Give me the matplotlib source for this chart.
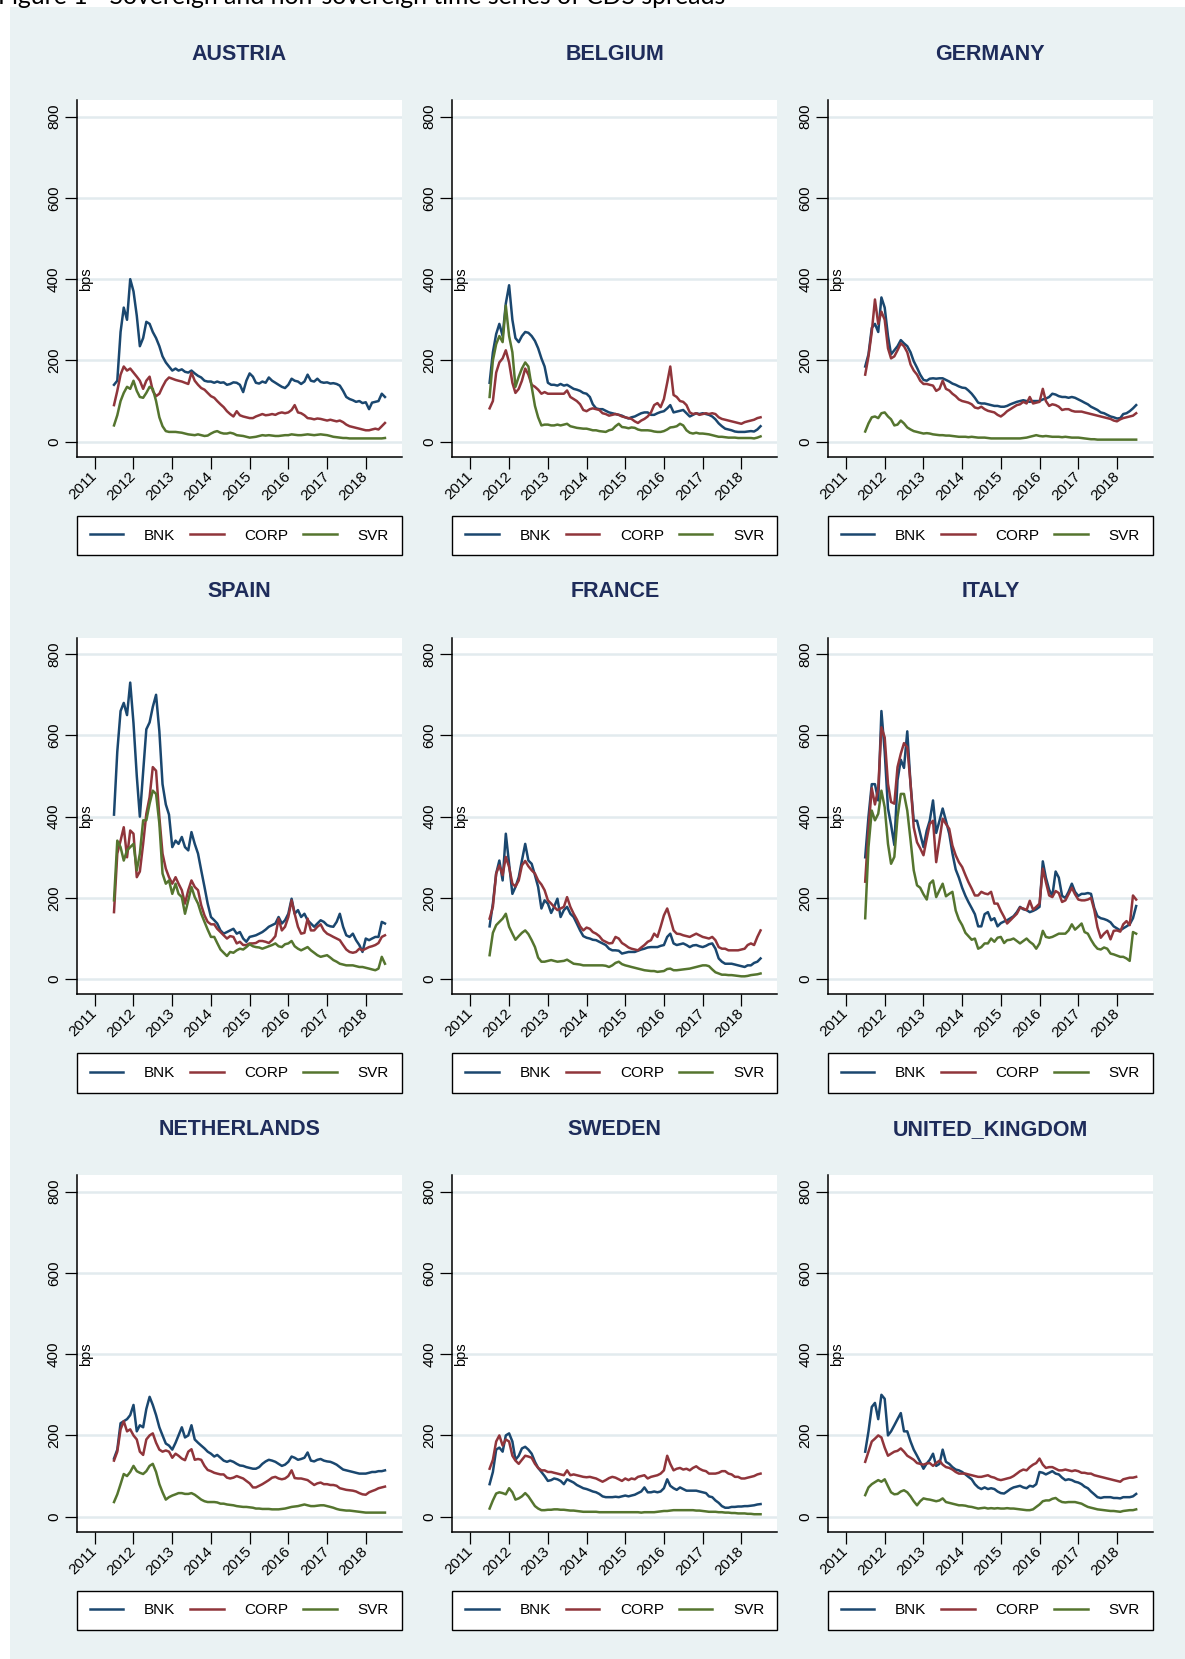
import numpy as np
import pandas as pd
import matplotlib
matplotlib.use("Agg")
from matplotlib import pyplot as plt
from matplotlib.patches import Rectangle
import matplotlib.transforms as mtransforms

plt.rcParams['font.family'] = ['Liberation Sans', 'DejaVu Sans']

# monthly observations, Jul 2011 .. Jul 2018
dates = pd.date_range("2011-07-01", periods=85, freq="MS")
years = list(range(2011, 2019))
yticks = [0, 200, 400, 600, 800]
series_names = ["BNK", "CORP", "SVR"]
countries = ["AUSTRIA", "BELGIUM", "GERMANY", "SPAIN", "FRANCE", "ITALY",
             "NETHERLANDS", "SWEDEN", "UNITED_KINGDOM"]

austria_bnk = [140,150,270,330,300,400,370,310,235,255, 295,290,270,255,235,210,195,185,175,180,
               175,178,172,170,175,168,162,158,150,148, 148,145,148,145,146,140,142,146,145,140,
               122,150,168,160,145,143,148,145,158,150, 145,140,135,132,140,155,150,148,142,148,
               165,150,148,155,147,145,146,143,144,142, 138,125,110,105,102,98,100,95,97,80,
               96,98,100,118,110]
austria_corp = [90,125,165,185,175,180,170,160,150,130, 150,160,125,112,118,135,150,158,155,152,
                150,148,145,142,170,150,140,132,128,120, 112,108,100,92,85,75,68,62,75,65,
                62,60,58,58,62,65,68,65,66,68, 66,70,72,70,72,78,90,72,70,65,
                58,57,55,57,56,54,52,54,52,50, 52,48,42,38,36,34,32,30,28,28,
                30,32,30,38,46]
austria_svr = [40,65,100,120,135,130,150,125,110,108, 120,135,130,100,60,38,26,24,24,24,
               23,22,20,18,17,16,18,16,14,15, 20,24,26,22,20,20,22,20,16,15,
               14,12,10,11,12,14,16,15,16,15, 14,14,15,16,16,18,17,16,16,17,
               18,17,16,17,18,17,16,14,12,11, 10,9,9,8,8,8,8,8,8,8,
               8,8,8,8,9]

belgium_bnk = [145,220,265,290,260,340,385,300,255,245, 260,270,268,260,248,230,205,185,145,140,
               140,138,142,138,140,135,130,128,125,120, 118,110,92,82,80,80,76,72,70,68,
               66,64,60,57,60,62,66,70,72,72, 66,66,70,73,75,82,90,72,74,76,
               78,70,62,66,70,68,70,68,66,62, 55,45,38,32,30,28,25,24,24,24,
               25,26,25,30,38]
belgium_corp = [82,100,170,195,205,225,195,145,120,130, 150,180,165,140,135,128,118,122,118,118,
                118,118,118,118,126,110,105,100,92,78, 75,80,82,80,78,70,68,64,66,68,
                66,62,60,58,56,50,46,52,56,62, 72,90,95,85,105,145,185,115,110,100,
                98,90,72,68,70,66,68,70,68,70, 68,60,56,54,52,50,48,46,44,48,
                50,52,54,58,60]
belgium_svr = [110,200,240,260,245,335,260,220,135,160, 180,195,185,135,88,60,40,42,42,40,
               40,42,40,42,44,38,36,34,33,32, 32,30,28,28,26,25,24,28,30,38,
               44,36,35,33,35,34,30,28,28,28, 27,25,24,24,26,30,35,36,38,44,
               40,28,22,20,22,20,20,19,18,16, 14,12,12,11,10,10,10,9,9,9,
               9,9,8,10,13]

germany_bnk = [185,215,280,290,270,355,330,260,215,225, 235,250,242,235,220,198,182,165,152,150,
               155,156,155,156,156,152,148,143,140,136, 133,132,126,118,108,96,94,94,92,90,
               88,88,86,86,88,92,95,98,100,102, 100,98,100,100,100,104,106,110,118,116,
               112,110,110,108,110,108,104,100,96,92, 86,82,78,72,70,66,62,60,57,58,
               68,70,75,82,90]
germany_corp = [165,210,270,350,290,320,300,230,205,210, 225,242,235,220,190,175,165,150,142,142,
                140,138,125,130,150,130,126,118,112,104, 100,98,96,92,84,82,86,80,76,74,
                72,66,62,68,75,80,85,90,92,98, 94,110,94,96,98,130,100,88,92,90,
                86,78,80,80,76,74,74,74,72,70, 68,66,64,62,60,58,56,52,50,55,
                58,60,62,64,70]
germany_svr = [25,45,60,62,58,70,72,62,55,40, 42,52,45,35,30,26,24,22,20,21,
               20,18,17,16,16,15,15,14,13,12, 12,12,11,12,11,10,10,10,9,8,
               8,8,8,8,8,8,8,8,8,9, 10,12,14,16,14,13,14,13,12,12,
               12,11,12,11,10,10,10,9,8,7, 6,6,5,5,5,5,5,5,5,5,
               5,5,5,5,5]

spain_bnk = [405,560,660,680,650,730,630,500,400,510, 615,632,670,700,610,480,430,405,325,341,
             333,350,325,317,362,333,309,268,227,186, 153,145,137,120,112,116,120,124,112,116,
             100,92,104,106,108,112,116,122,129,133, 137,153,137,145,161,198,161,170,153,161,
             145,137,129,137,145,141,133,130,129,141, 161,129,108,104,112,96,84,67,100,96,
             100,104,104,141,137]
spain_corp = [165,309,341,374,300,366,358,251,265,333, 407,448,522,513,399,309,272,251,235,251,
              235,219,186,219,243,227,219,182,157,141, 135,135,124,116,108,100,106,104,88,92,
              84,84,88,88,89,94,94,92,89,96, 106,149,120,129,153,194,161,129,112,114,
              149,120,120,129,135,120,112,108,104,100, 96,84,73,67,65,67,75,71,75,79,
              81,84,89,104,108]
spain_svr = [194,341,325,292,317,325,333,268,309,391, 391,432,464,456,383,260,235,243,210,235,
             210,202,161,194,227,202,186,161,141,122, 104,104,89,73,65,57,67,65,71,75,
             73,79,86,81,79,78,75,78,81,84, 88,81,79,86,88,94,81,75,71,75,
             79,71,65,59,55,57,59,53,47,43, 38,36,34,34,34,32,30,30,28,26,
             24,22,26,55,38]

france_bnk = [130,186,260,292,243,358,284,210,227,251, 292,333,292,284,256,227,174,194,186,163,
              178,198,153,170,178,161,153,137,120,106, 102,100,97,96,92,88,84,75,71,71,
              70,63,65,67,67,67,70,73,75,78, 79,79,79,82,84,104,112,88,84,86,
              88,84,79,83,84,81,79,82,86,88, 75,51,43,38,38,38,36,34,32,30,
              34,34,40,43,51]
france_corp = [149,178,260,280,256,301,276,235,228,243, 280,291,278,268,260,243,233,219,194,186,
               178,170,174,178,202,178,161,147,130,120, 127,124,116,112,106,96,92,88,89,104,
               100,89,84,78,75,73,71,78,84,92, 96,112,104,129,157,174,149,120,112,111,
               108,106,104,108,112,108,104,102,100,104, 96,79,75,75,71,71,71,71,73,75,
               84,88,84,104,120]
france_svr = [59,114,133,141,149,161,129,112,97,106, 114,120,111,96,79,53,43,43,45,47,
              45,43,44,45,48,43,38,37,36,34, 34,34,34,34,34,34,33,30,34,40,
              43,37,34,32,30,28,26,24,22,21, 20,20,18,19,20,25,26,22,22,23,
              24,25,26,28,30,32,34,34,32,24, 17,14,11,11,10,10,9,8,7,7,
              8,10,11,12,14]

italy_bnk = [300,400,480,480,440,660,560,420,380,330, 490,540,520,610,480,390,390,358,325,366,
             390,440,360,390,420,390,358,310,270,250, 225,205,190,175,160,130,130,160,165,145,
             150,130,138,142,145,150,155,165,178,172, 170,165,168,172,178,290,250,220,205,265,
             250,205,200,215,235,215,205,210,210,212, 210,175,155,150,148,145,140,130,125,120,
             125,130,135,150,180]
italy_corp = [240,370,470,430,470,620,595,481,436,432, 522,555,581,571,481,374,337,322,305,346,
              382,390,288,342,395,382,370,329,305,288, 276,256,239,223,206,206,215,211,209,215,
              186,186,168,153,137,145,153,161,176,174, 170,193,171,178,186,272,239,206,202,217,
              212,190,194,209,225,209,196,194,194,196, 200,170,128,102,112,119,98,119,120,117,
              135,143,133,206,196]
italy_svr = [150,325,415,391,407,464,423,333,284,301, 399,456,456,415,342,268,231,225,209,196,
             235,243,202,219,235,204,210,215,169,147, 133,114,106,97,100,75,79,88,88,100,
             92,102,104,89,96,97,100,94,88,94, 100,92,86,75,88,119,104,102,104,108,
             112,112,112,120,135,122,129,137,116,112, 97,84,75,73,78,75,63,61,58,55,
             55,51,45,116,112]

netherlands_bnk = [143,165,230,235,240,250,275,210,225,220, 265,295,275,250,220,200,180,175,165,182,
                   200,220,195,200,225,190,182,175,168,160, 155,148,152,145,138,135,138,135,130,126,
                   125,122,120,118,118,122,130,136,140,138, 135,130,125,128,135,148,145,140,142,145,
                   158,138,136,140,142,138,136,135,132,128, 122,116,114,112,110,108,106,106,106,108,
                   110,110,112,112,114]
netherlands_corp = [138,160,215,235,210,215,200,190,160,152, 190,200,205,182,165,160,163,160,145,155,
                    150,143,139,160,166,140,142,140,125,115, 112,108,106,104,104,96,94,96,100,97,
                    94,88,82,72,72,76,80,85,90,96, 98,94,92,94,100,114,95,94,94,92,
                    90,84,78,82,84,80,80,78,78,76, 70,68,66,65,64,62,58,55,54,60,
                    63,66,70,72,74]
netherlands_svr = [36,55,80,105,100,110,125,112,108,105, 112,125,130,110,80,60,42,48,52,55,
                   58,58,56,56,58,54,48,42,38,36, 36,36,35,32,32,30,29,28,26,25,
                   24,24,23,22,20,20,19,19,19,18, 18,18,19,20,22,24,25,26,28,30,
                   28,26,26,27,28,28,26,24,22,19, 17,16,15,15,14,13,12,11,10,10,
                   10,10,10,10,10]

sweden_bnk = [80,110,165,170,160,200,205,185,140,150, 168,172,165,155,135,120,110,100,88,90,
              94,92,88,80,92,88,84,78,74,70, 68,65,62,60,56,50,48,48,48,49,
              48,50,52,50,52,54,58,62,72,60, 60,62,60,62,70,92,76,70,66,72,
              68,64,64,64,64,62,60,58,50,48, 40,34,26,22,22,24,24,25,25,26,
              26,27,28,30,31]
sweden_corp = [118,140,185,200,175,190,185,150,138,130, 140,150,148,145,130,120,114,114,110,110,
               108,106,104,102,114,102,104,102,100,98, 97,98,96,94,90,86,90,95,98,96,
               92,88,94,90,94,92,98,100,102,94, 98,100,102,106,114,150,130,114,118,120,
               116,118,114,120,124,118,114,112,106,106, 106,108,112,112,106,104,98,98,94,94,
               96,98,100,104,106]
sweden_svr = [20,40,57,60,58,55,70,60,42,45, 50,58,50,38,26,20,16,16,17,17,
              18,18,17,17,16,15,15,14,13,12, 12,12,12,12,11,11,11,11,11,11,
              11,11,11,11,11,11,11,10,11,11, 11,11,12,13,14,14,15,16,16,16,
              16,16,16,16,15,15,14,13,12,12, 12,11,11,10,10,9,9,8,8,8,
              7,7,6,6,6]

uk_bnk = [160,210,270,280,240,300,290,200,210,225, 240,255,210,210,185,165,150,135,118,131,
          140,155,125,130,165,135,130,122,116,114, 110,104,98,92,80,72,68,72,68,70,
          68,62,58,57,62,68,72,74,76,72, 70,76,74,80,110,108,104,108,112,106,
          104,96,90,92,90,86,84,80,74,70, 62,55,48,46,48,48,48,46,46,45,
          48,48,48,50,56]
uk_corp = [135,160,185,192,200,195,170,150,155,160, 162,168,160,150,145,140,132,130,128,131,
           132,125,132,138,128,122,120,116,110,106, 106,106,104,102,100,98,98,100,102,98,
           96,92,90,92,94,96,100,106,112,116, 114,122,128,132,143,128,120,122,122,118,
           114,114,116,114,112,114,112,108,108,106, 106,102,100,98,96,94,92,90,88,86,
           92,94,96,96,98]
uk_svr = [53,72,80,85,90,86,92,75,60,55, 56,62,65,60,50,38,28,38,45,43,
          42,40,38,40,45,36,34,32,30,28, 28,27,25,24,22,20,21,22,20,21,
          20,21,20,20,21,20,20,19,18,17, 16,16,18,24,30,38,40,40,44,46,
          40,36,35,36,36,36,34,32,28,24, 22,20,18,17,16,15,14,14,13,12,
          14,15,16,16,18]

bnk = [austria_bnk, belgium_bnk, germany_bnk, spain_bnk, france_bnk, italy_bnk,
       netherlands_bnk, sweden_bnk, uk_bnk]
corp = [austria_corp, belgium_corp, germany_corp, spain_corp, france_corp, italy_corp,
        netherlands_corp, sweden_corp, uk_corp]
svr = [austria_svr, belgium_svr, germany_svr, spain_svr, france_svr, italy_svr,
       netherlands_svr, sweden_svr, uk_svr]

# stata s2color look
BG = "#eaf2f3"
GRID = "#e2ebee"
colors = ["#1a476f", "#90353b", "#55752f"]
TITLE_C = "#1e2c5a"

W, H = 1185, 1659
fig = plt.figure(figsize=(W / 100, H / 100), dpi=100)
fig.patch.set_facecolor("white")
fig.patches.append(Rectangle((9.5 / W, 0), 1, 1 - 7 / H, transform=fig.transFigure,
                             facecolor=BG, edgecolor="none", zorder=-10))
# caption of the page, cropped at the top like in the source scan
fig.text(-2 / W, 1 - 4 / H, "Figure 1 - Sovereign and non-sovereign time series of CDS spreads",
         fontsize=17.8, family=["Lato", "DejaVu Sans"], va="baseline", ha="left")

ax_w, ax_h = 325, 356.7
for k, name in enumerate(countries):
    r, c = divmod(k, 3)
    left = 76.7 + 375.6 * c
    bottom = 456.7 + 537.5 * r
    ax = fig.add_axes([left / W, 1 - bottom / H, ax_w / W, ax_h / H])
    ax.set_facecolor("white")

    for vals, col, lab in zip([bnk[k], corp[k], svr[k]], colors, series_names):
        ax.plot(dates, vals, color=col, lw=1.8, label=lab, solid_joinstyle="round")

    ax.set_ylim(-37, 841)
    ax.set_xlim(pd.Timestamp("2010-07-14"), pd.Timestamp("2018-12-06"))
    ax.set_yticks(yticks)
    ax.set_yticklabels([str(v) for v in yticks], rotation=90, va="center")
    ax.set_xticks([pd.Timestamp(f"{y}-01-01") for y in years])
    ax.set_xticklabels([str(y) for y in years], rotation=45, ha="right",
                       rotation_mode="anchor", va="center")
    ax.tick_params(axis="both", direction="out", length=8.3, width=0.9,
                   labelsize=11, color="black")
    ax.tick_params(axis="x", pad=4)
    ax.tick_params(axis="y", pad=3)
    ax.grid(axis="y", color=GRID, lw=1.8)
    ax.set_axisbelow(True)
    for s in ["top", "right"]:
        ax.spines[s].set_visible(False)
    for s in ["left", "bottom"]:
        ax.spines[s].set_linewidth(1.1)

    ax.text(0.5, 1 + (100 - 59.7) / ax_h, name, transform=ax.transAxes, ha="center",
            va="baseline", fontsize=15.5, fontweight="bold", color=TITLE_C)

    trans = mtransforms.blended_transform_factory(ax.transAxes, ax.transData)
    ax.text(0.006, 400, "bps", transform=trans, rotation=90, ha="left", va="center",
            fontsize=10.5)

    leg = ax.legend(loc="center", bbox_to_anchor=(0, -(558.3 - 456.7) / ax_h, 1, 45.6 / ax_h),
                    mode="expand", ncol=3, fontsize=11, handlelength=2.2,
                    handletextpad=1.35, borderpad=0.85, borderaxespad=0,
                    fancybox=False, framealpha=1, edgecolor="black", facecolor="white")
    leg.get_frame().set_linewidth(1.0)

fig.savefig("out.png", dpi=100, facecolor="white")
